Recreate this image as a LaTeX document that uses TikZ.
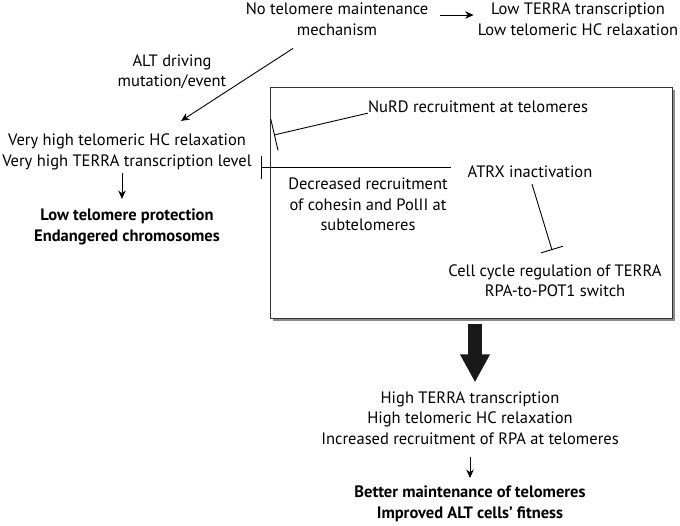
\documentclass[tikz,border=0pt]{standalone}
\usepackage{fontspec}
\setmainfont{PT Sans}
\usetikzlibrary{arrows.meta}
\begin{document}
\begin{tikzpicture}
% Telomere pathway figure, coordinates in pixels of the original
\def\pxsz{1pt}
\providecommand{\pathLineColor}{black}
\providecommand{\pathBoxColor}{black!80}
\providecommand{\pathShadowColor}{black!45}
\providecommand{\pathBigArrowColor}{black!90}
\providecommand{\pathLineWidth}{0.9pt}
\providecommand{\pathBarWidth}{23pt}
\begin{scope}[x=\pxsz, y=-\pxsz,
  txt/.style={align=center, inner sep=0pt, font=\fontsize{16.5}{20.5}\selectfont},
  bold/.style={txt, font=\fontsize{16.5}{20.5}\selectfont\bfseries},
  arr/.style={draw=\pathLineColor, line width=\pathLineWidth, -{Stealth[length=8.5pt,width=7.5pt]}},
  blk/.style={draw=\pathLineColor, line width=\pathLineWidth, -{Bar[width=\pathBarWidth]}}]
  % Page
  \useasboundingbox (0,0) rectangle (680,525);
  % Box with drop shadow
  \fill[\pathShadowColor] (273,90) rectangle (675,321);
  \node[draw=\pathBoxColor, fill=white, line width=1pt, inner sep=0pt,
        minimum width=402pt, minimum height=231pt] (mainbox) at (471,202.5) {};
  % Top row
  \node[txt] (nomech) at (337,19) {No telomere maintenance\\mechanism};
  \node[txt] (lowterra) at (578,19) {Low TERRA transcription\\Low telomeric HC relaxation};
  \node[txt] (altdrv) at (172,72) {ALT driving\\mutation/event};
  % Left column
  \node[txt] (veryhigh) at (127,152) {Very high telomeric HC relaxation\\Very high TERRA transcription level};
  \node[bold] (lowprot) at (127,227) {Low telomere protection\\Endangered chromosomes};
  % Inside the box
  \node[txt] (nurd) at (478,107) {NuRD recruitment at telomeres};
  \node[txt] (atrx) at (530,172) {ATRX inactivation};
  \node[txt] (decr) at (368,204.5) {Decreased recruitment\\of cohesin and PolII at\\subtelomeres};
  \node[txt] (cellcyc) at (555,280.5) {Cell cycle regulation of TERRA\\RPA-to-POT1 switch};
  % Bottom
  \node[txt] (highterra) at (470,418) {High TERRA transcription\\High telomeric HC relaxation\\Increased recruitment of RPA at telomeres};
  \node[bold] (better) at (470,504) {Better maintenance of telomeres\\Improved ALT cells' fitness};
  % Free ends of the inhibition lines
  \coordinate (nurdhit) at (274,135);
  \coordinate (terrahit) at (261,167);
  \coordinate (atrxhit) at (552,250);
  % Arrows
  \draw[arr, shorten <=12pt, shorten >=4pt] ([yshift=4pt]nomech.east) -- ([yshift=4pt]lowterra.west);
  \draw[arr] ([xshift=-44pt,yshift=-13pt]nomech.south) -- ([xshift=54pt,yshift=13pt]veryhigh.north);
  \draw[arr, shorten <=3pt, shorten >=10pt] ([xshift=-5pt]veryhigh.south) -- ([xshift=-5pt]lowprot.north);
  \draw[arr, shorten <=12pt, shorten >=8pt] (highterra.south) -- (better.north);
  % Inhibitions
  \draw[blk, -{Bar[width=32pt]}] (nurd.south west) -- (nurdhit);
  \draw[blk] ([xshift=-17pt,yshift=5pt]atrx.west) -- (terrahit);
  \draw[blk] ([xshift=2pt,yshift=-6pt]atrx.south) -- (atrxhit);
  % Big arrow out of the box
  \draw[draw=\pathBigArrowColor, line width=14pt, -{Triangle[length=28pt,width=28pt]}]
    ([xshift=4pt,yshift=-5pt]mainbox.south) -- ([xshift=5pt,yshift=9pt]highterra.north);
\end{scope}
\end{tikzpicture}
\end{document}
